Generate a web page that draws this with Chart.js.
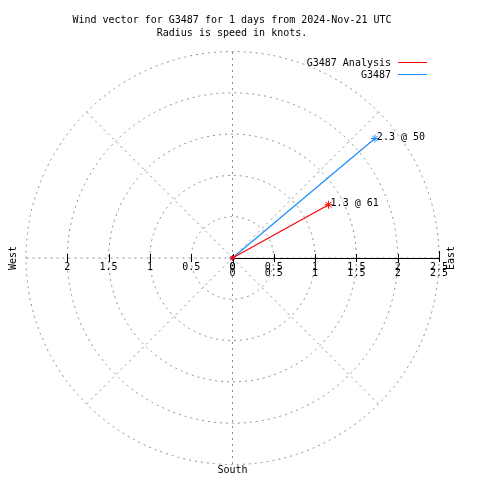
<!DOCTYPE html>
<html>
<head>
<meta charset="utf-8">
<script src="https://cdn.jsdelivr.net/npm/chart.js@4.4.0/dist/chart.umd.min.js"></script>
<style>
  html, body { margin: 0; padding: 0; background: #fff; }
  canvas { display: block; }
</style>
</head>
<body>
<canvas id="chart" width="480" height="480"></canvas>
<script>
// wind vectors, direction in degrees clockwise from north, radius = speed (knots)
const seriesNames = ["G3487 Analysis", "G3487"];
const seriesColors = ["#ff0000", "#1a8cff"];
const speeds = [1.33, 2.25];
const directions = [61, 50];
const speedLabels = ["1.3", "2.3"];

const ringValues = [0.5, 1, 1.5, 2, 2.5];
const tickValues = [0, 0.5, 1, 1.5, 2, 2.5];
const tickLabels = ["0", "0.5", "1", "1.5", "2", "2.5"];
const westTickValues = [0, 0.5, 1, 1.5, 2];
const westTickLabels = ["0", "0.5", "1", "1.5", "2"];
const spokeAngles = [0, 45, 90, 135, 180, 225, 270, 315];
const titleLines = [
    "Wind vector for G3487 for 1 days from 2024-Nov-21 UTC",
    "Radius is speed in knots."
];
const maxRadius = 2.5;

const FONT = '10px "DejaVu Sans Mono", "Liberation Mono", monospace';
const GRID = "#8c8c8c";

const toXY = (s, d) => ({
    x: s * Math.sin(d * Math.PI / 180),
    y: s * Math.cos(d * Math.PI / 180)
});

const datasets = seriesNames.map((name, i) => ({
    label: name,
    data: [{ x: 0, y: 0 }, toXY(speeds[i], directions[i])],
    showLine: true,
    borderColor: seriesColors[i],
    backgroundColor: seriesColors[i],
    borderWidth: 1.2,
    pointStyle: "star",
    pointRadius: [3, 4],
    pointBorderColor: seriesColors[i],
    pointBorderWidth: 1,
}));

// gnuplot-like polar frame, drawn from the chart's own scales
const polarFrame = {
    id: "polarFrame",
    beforeDatasetsDraw(chart) {
        const { ctx, scales: { x, y } } = chart;
        const cx = x.getPixelForValue(0), cy = y.getPixelForValue(0);
        const k = x.getPixelForValue(1) - cx;
        ctx.save();
        ctx.strokeStyle = GRID;
        ctx.lineWidth = 1;
        ctx.setLineDash([2, 4]);
        ringValues.forEach(r => {
            ctx.beginPath();
            ctx.arc(cx, cy, r * k, 0, Math.PI * 2);
            ctx.stroke();
        });
        spokeAngles.forEach(a => {
            const p = toXY(maxRadius, a);
            ctx.beginPath();
            ctx.moveTo(cx, cy);
            ctx.lineTo(x.getPixelForValue(p.x), y.getPixelForValue(p.y));
            ctx.stroke();
        });
        ctx.setLineDash([]);
        // east axis, solid
        ctx.strokeStyle = "#000";
        ctx.beginPath();
        ctx.moveTo(cx, Math.round(cy) + 0.5);
        ctx.lineTo(x.getPixelForValue(maxRadius), Math.round(cy) + 0.5);
        ctx.stroke();
        tickValues.forEach(v => {
            const px = Math.round(x.getPixelForValue(v)) + 0.5;
            const up = v === maxRadius ? 7 : 4;
            ctx.beginPath();
            ctx.moveTo(px, cy - up);
            ctx.lineTo(px, cy + 4);
            ctx.stroke();
        });
        westTickValues.forEach(v => {
            const px = Math.round(x.getPixelForValue(-v)) + 0.5;
            ctx.beginPath();
            ctx.moveTo(px, cy - 4);
            ctx.lineTo(px, cy + 4);
            ctx.stroke();
        });
        ctx.restore();
    },
    afterDatasetsDraw(chart) {
        const { ctx, scales: { x, y } } = chart;
        const cx = x.getPixelForValue(0), cy = y.getPixelForValue(0);
        ctx.save();
        ctx.font = FONT;
        ctx.fillStyle = "#000";
        ctx.textBaseline = "middle";
        ctx.textAlign = "center";
        // tick labels
        westTickValues.forEach((v, i) => {
            ctx.fillText(westTickLabels[i], x.getPixelForValue(-v), cy + 9);
        });
        tickValues.forEach((v, i) => {
            ctx.fillText(tickLabels[i], x.getPixelForValue(v), cy + 9);
            ctx.fillText(tickLabels[i], x.getPixelForValue(v), cy + 15);
        });
        // titles
        titleLines.forEach((t, i) => ctx.fillText(t, 232, 20 + i * 13));
        ctx.fillText("South", cx, 470);
        [["West", 13], ["East", 451]].forEach(([t, px]) => {
            ctx.save();
            ctx.translate(px, cy);
            ctx.rotate(-Math.PI / 2);
            ctx.fillText(t, 0, 0);
            ctx.restore();
        });
        // legend
        ctx.textAlign = "right";
        seriesNames.forEach((name, i) => {
            const ly = 63 + i * 12;
            ctx.fillText(name, 391, ly);
            ctx.strokeStyle = seriesColors[i];
            ctx.lineWidth = 1;
            ctx.beginPath();
            ctx.moveTo(398, ly - 0.5);
            ctx.lineTo(427, ly - 0.5);
            ctx.stroke();
        });
        // point labels
        ctx.textAlign = "left";
        seriesNames.forEach((name, i) => {
            const p = toXY(speeds[i], directions[i]);
            ctx.fillText(speedLabels[i] + " @ " + directions[i],
                x.getPixelForValue(p.x) + 2, y.getPixelForValue(p.y) - 1);
        });
        ctx.restore();
    }
};

new Chart(document.getElementById("chart"), {
    type: "scatter",
    data: { datasets },
    options: {
        responsive: false,
        animation: false,
        devicePixelRatio: 1,
        layout: { padding: { left: 26, right: 41, top: 51.5, bottom: 15.5 } },
        scales: {
            x: { type: "linear", min: -maxRadius, max: maxRadius, display: false },
            y: { type: "linear", min: -maxRadius, max: maxRadius, display: false }
        },
        plugins: {
            legend: { display: false },
            title: { display: false },
            tooltip: { enabled: false }
        }
    },
    plugins: [polarFrame]
});
</script>
</body>
</html>
